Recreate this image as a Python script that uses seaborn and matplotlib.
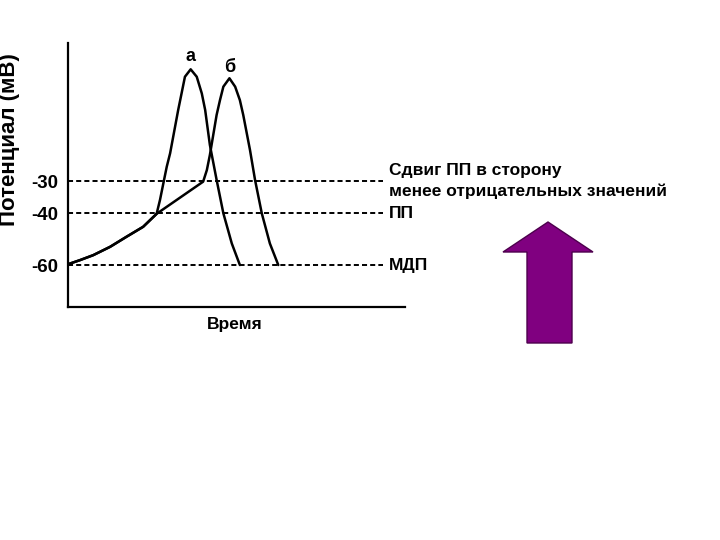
import numpy as np
import pandas as pd
import matplotlib
matplotlib.use("Agg")
import matplotlib.pyplot as plt
from matplotlib.patches import Polygon
import seaborn as sns

# ---- data (time in arbitrary units, potential in mV) ----
rise_t = [0.00, 0.36, 0.75, 1.25, 1.74, 2.23, 2.63]
rise_v = [-59.7, -58.1, -56.2, -53.0, -49.1, -45.3, -40.3]

a_t = [2.73, 2.83, 2.93, 3.03, 3.27, 3.37, 3.47, 3.64, 3.82, 3.97, 4.07, 4.21, 4.41, 4.61, 4.86, 5.10]
a_v = [-35.9, -30.7, -24.9, -20.1, -4.6, 1.3, 7.25, 9.9, 7.25, 1.3, -4.6, -17.1, -29.6, -40.1, -51.7, -60.0]

b_t = [4.01, 4.12, 4.21, 4.41, 4.51, 4.61, 4.79, 4.96, 5.10, 5.20, 5.40, 5.55, 5.75, 5.99, 6.24]
b_v = [-30.2, -26.1, -20.7, -6.4, -1.1, 3.7, 6.7, 3.7, -1.1, -6.4, -18.9, -29.6, -40.1, -51.7, -60.0]

levels = [-30, -40, -60]
level_labels = ["-30", "-40", "-60"]
right_labels = ["Сдвиг ПП в сторону\nменее отрицательных значений", "ПП", "МДП"]
peak_labels = ["а", "б"]
x_label = "Время"
y_label = "Потенциал (мВ)"

df_a = pd.DataFrame({"t": rise_t + a_t, "v": rise_v + a_v})
df_b = pd.DataFrame({"t": rise_t + b_t, "v": rise_v + b_v})

sns.set_style("white")
plt.rcParams["font.family"] = ["Liberation Sans", "DejaVu Sans"]
plt.rcParams["text.color"] = "black"
plt.rcParams["ytick.color"] = "black"

fig = plt.figure(figsize=(7.2, 5.4), dpi=100)
ax = fig.add_axes([68 / 720, 1 - 307 / 540, (405 - 68) / 720, (307 - 43) / 540])

# piecewise-linear potential axis, as drawn in the original figure
kv = np.array([-200.0, -60.0, -40.0, -30.0, 200.0])
kg = np.array([-140 * 2.6, 0.0, 52.0, 84.0, 84.0 + 230 * 2.8])
fwd = lambda v: np.interp(v, kv, kg)
inv = lambda g: np.interp(g, kg, kv)
ax.set_yscale("function", functions=(fwd, inv))

ax.hlines(levels, 0, 9.35, colors="black", linestyles=(0, (2.6, 1.6)), lw=1.4)

for d in (df_a, df_b):
    sns.lineplot(data=d, x="t", y="v", ax=ax, color="black", lw=1.8, sort=False,
                 solid_joinstyle="round", solid_capstyle="round")

ax.set_xlim(0, 10)
ax.set_ylim(-76.15, 19.3)
ax.set_xticks([])
ax.set_yticks(levels)
ax.set_yticklabels(level_labels, fontsize=13.5, fontweight="bold")
ax.tick_params(axis="y", direction="out", length=3, width=1.2, pad=4, colors="black")
ax.set_xlabel("")
ax.set_ylabel("")
for s in ["top", "right"]:
    ax.spines[s].set_visible(False)
for s in ["left", "bottom"]:
    ax.spines[s].set_color("black")
    ax.spines[s].set_linewidth(1.6)

# peak labels
ax.text(3.64, 14.4, peak_labels[0], fontsize=13, fontweight="bold", ha="center", va="center")
ax.text(4.79, 10.6, peak_labels[1], fontsize=13, fontweight="bold", ha="center", va="center")

# right-side labels
ax.text(9.52, -30, right_labels[0], fontsize=12.5, fontweight="bold", ha="left",
        va="center", linespacing=1.4, clip_on=False)
ax.text(9.52, -40, right_labels[1], fontsize=12.5, fontweight="bold", ha="left",
        va="center", clip_on=False)
ax.text(9.52, -60, right_labels[2], fontsize=12.5, fontweight="bold", ha="left",
        va="center", clip_on=False)

fig.text(235 / 720, 1 - 324 / 540, x_label, fontsize=12.5, fontweight="bold",
         ha="center", va="center")
fig.text(10 / 720, 1 - 140 / 540, y_label, fontsize=16, fontweight="bold",
         ha="center", va="center", rotation=90)

# purple arrow
pts = [(527, 343), (527, 252), (503, 252), (548, 222), (593, 252), (572, 252), (572, 343)]
arrow = Polygon([(x / 720, 1 - y / 540) for x, y in pts], closed=True,
                transform=fig.transFigure, facecolor="#800080", edgecolor="#4d004d", lw=1)
fig.patches.append(arrow)

fig.savefig("out.png", dpi=100)
